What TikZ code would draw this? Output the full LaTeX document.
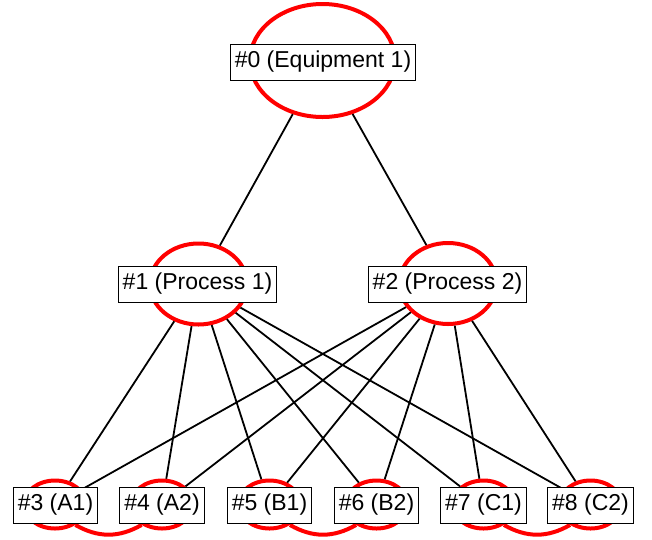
\documentclass[tikz,border=0pt]{standalone}
\usepackage{fontspec}
\setmainfont{Liberation Sans}
\usetikzlibrary{shapes.geometric}
\tikzset{
  ring/.style={ellipse, draw=red, line width=4pt, inner sep=0pt},
  bigring/.style={ring, minimum width=145pt, minimum height=113pt},
  midring/.style={ring, minimum width=97pt, minimum height=81pt},
  leafring/.style={ring, minimum width=62pt, minimum height=48pt},
  lbl/.style={draw=black, line width=0.9pt, fill=white, inner xsep=4.5pt, inner ysep=0pt,
    minimum height=36pt, font=\fontsize{23}{27}\selectfont},
  link/.style={draw=black, line width=1.8pt},
  pair/.style={draw=red, line width=4pt}
}
\begin{document}
\begin{tikzpicture}[x=1pt, y=-1pt]
\useasboundingbox (0,0) rectangle (652,539);
% rings
\node[bigring] (e0) at (322.5,60.5) {};
\node[midring] (e1) at (198.5,284) {};
\node[midring] (e2) at (448,283.5) {};
\node[leafring] (e3) at (55,504.5) {};
\node[leafring] (e4) at (162,504.5) {};
\node[leafring] (e5) at (269.5,504.5) {};
\node[leafring] (e6) at (376.5,504.5) {};
\node[leafring] (e7) at (483.5,504.5) {};
\node[leafring] (e8) at (590.5,504.5) {};
% pair curves
\draw[pair] (e3.-45) .. controls +(-30:26pt) and +(-150:26pt) .. (e4.-135);
\draw[pair] (e5.-45) .. controls +(-30:26pt) and +(-150:26pt) .. (e6.-135);
\draw[pair] (e7.-45) .. controls +(-30:26pt) and +(-150:26pt) .. (e8.-135);
% links
\draw[link] (e0) -- (e1);
\draw[link] (e0) -- (e2);
\foreach \t in {3,...,8} {
  \draw[link] (e1) -- (e\t);
  \draw[link] (e2) -- (e\t);
}
% labels
\node[lbl] (b0) at (323,62) {\#0 (Equipment 1)};
\node[lbl] (b1) at (197.5,284) {\#1 (Process 1)};
\node[lbl] (b2) at (447.5,284) {\#2 (Process 2)};
\node[lbl] (b3) at (55.5,505) {\#3 (A1)};
\node[lbl] (b4) at (162,505) {\#4 (A2)};
\node[lbl] (b5) at (269.5,505) {\#5 (B1)};
\node[lbl] (b6) at (376.5,505) {\#6 (B2)};
\node[lbl] (b7) at (483.5,505) {\#7 (C1)};
\node[lbl] (b8) at (590.5,505) {\#8 (C2)};
\end{tikzpicture}
\end{document}
